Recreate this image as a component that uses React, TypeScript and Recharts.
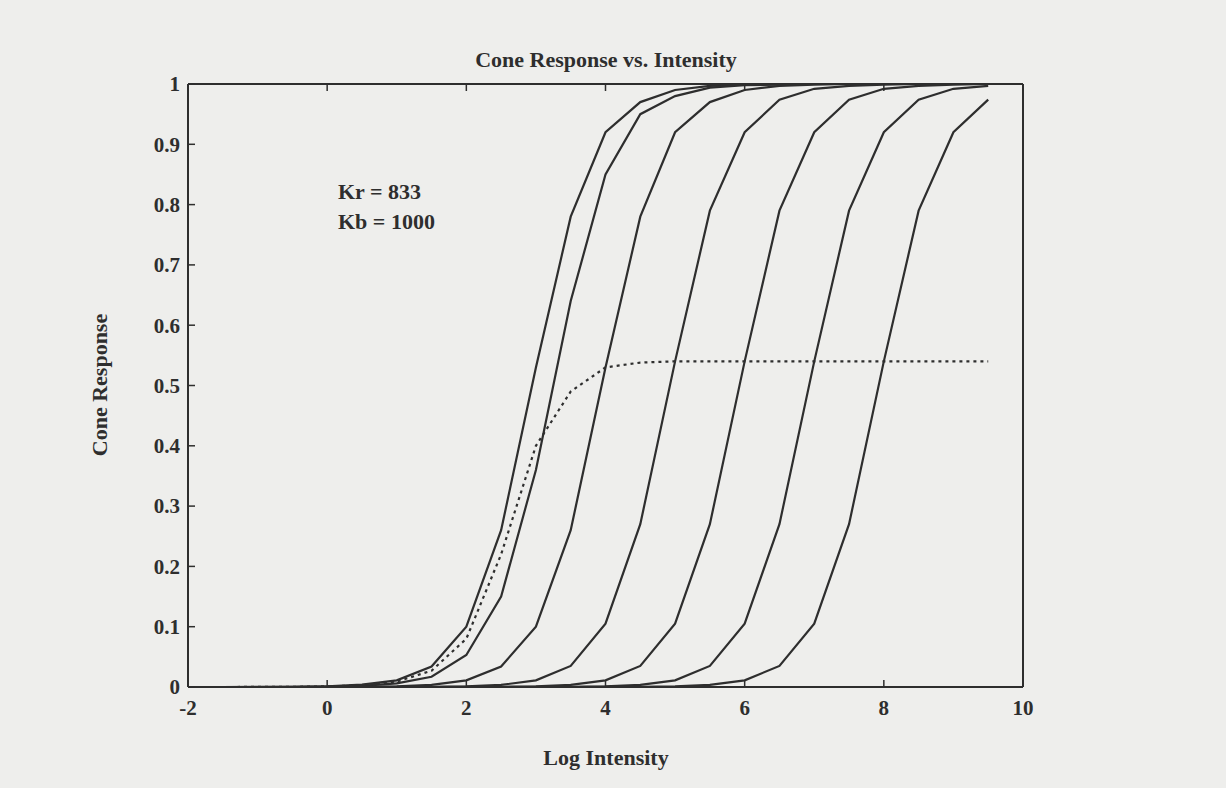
import React from "react";
import { LineChart, Line, XAxis, YAxis } from "recharts";

// log intensity sample points (0.5 steps)
const LOG_I = [
  -2, -1.5, -1, -0.5, 0, 0.5, 1, 1.5, 2, 2.5, 3, 3.5, 4, 4.5, 5, 5.5, 6, 6.5,
  7, 7.5, 8, 8.5, 9, 9.5,
];

// cone response curves
const R1 = [0, 0, 0.0001, 0.0004, 0.001, 0.004, 0.011, 0.034, 0.1, 0.26, 0.53, 0.78, 0.92, 0.97, 0.99, 0.997, 0.999, 1, 1, 1, 1, 1, 1, 1];
const R2 = [0, 0, 0, 0.0002, 0.0006, 0.0018, 0.006, 0.017, 0.053, 0.15, 0.36, 0.64, 0.85, 0.95, 0.98, 0.994, 0.998, 0.999, 1, 1, 1, 1, 1, 1];
const R3 = [0, 0, 0, 0, 0.0001, 0.0004, 0.0011, 0.0035, 0.011, 0.034, 0.1, 0.26, 0.53, 0.78, 0.92, 0.97, 0.99, 0.997, 0.999, 1, 1, 1, 1, 1];
const R4 = [0, 0, 0, 0, 0, 0, 0.0001, 0.0004, 0.0011, 0.0035, 0.011, 0.035, 0.105, 0.27, 0.54, 0.79, 0.92, 0.974, 0.992, 0.997, 0.999, 1, 1, 1];
const R5 = [0, 0, 0, 0, 0, 0, 0, 0, 0.0001, 0.0004, 0.0011, 0.0035, 0.011, 0.035, 0.105, 0.27, 0.54, 0.79, 0.92, 0.974, 0.992, 0.997, 0.999, 1];
const R6 = [0, 0, 0, 0, 0, 0, 0, 0, 0, 0, 0.0001, 0.0004, 0.0011, 0.0035, 0.011, 0.035, 0.105, 0.27, 0.54, 0.79, 0.92, 0.974, 0.992, 0.997];
const R7 = [0, 0, 0, 0, 0, 0, 0, 0, 0, 0, 0, 0, 0.0001, 0.0004, 0.0011, 0.0035, 0.011, 0.035, 0.105, 0.27, 0.54, 0.79, 0.92, 0.974];
// dotted curve
const DOTTED = [0, 0, 0.0001, 0.0003, 0.001, 0.003, 0.009, 0.027, 0.08, 0.22, 0.4, 0.49, 0.53, 0.538, 0.54, 0.54, 0.54, 0.54, 0.54, 0.54, 0.54, 0.54, 0.54, 0.54];

const X_TICKS = [-2, 0, 2, 4, 6, 8, 10];
const Y_TICKS = [0, 0.1, 0.2, 0.3, 0.4, 0.5, 0.6, 0.7, 0.8, 0.9, 1];

const SERIES = [R1, R2, R3, R4, R5, R6, R7];

const data = LOG_I.map((x, i) => {
  const row: Record<string, number> = { x, dotted: DOTTED[i] };
  SERIES.forEach((s, k) => {
    row[`r${k + 1}`] = s[i];
  });
  return row;
});

const INK = "#2e2e2e";
const FONT = "'Liberation Serif', 'Times New Roman', serif";
const TICK_LEN = 7;

const fmtY = (v: number) => (v === 0 || v === 1 ? String(v) : v.toFixed(1));

const LeftTick = (props: any) => {
  const { x, y, payload } = props;
  return (
    <g>
      <line x1={x + 8} x2={x + 8 + TICK_LEN} y1={y} y2={y} stroke={INK} strokeWidth={1.5} />
      <text x={x} y={y} dy="0.35em" textAnchor="end" fontFamily={FONT} fontSize={21} fontWeight="bold" fill={INK}>
        {fmtY(payload.value)}
      </text>
    </g>
  );
};

const BottomTick = (props: any) => {
  const { x, y, payload } = props;
  return (
    <g>
      <line x1={x} x2={x} y1={y - 13} y2={y - 13 - TICK_LEN} stroke={INK} strokeWidth={1.5} />
      <text x={x} y={y} dy="0.71em" textAnchor="middle" fontFamily={FONT} fontSize={21} fontWeight="bold" fill={INK}>
        {payload.value}
      </text>
    </g>
  );
};

const TopTick = (props: any) => {
  const { x, y } = props;
  return <line x1={x} x2={x} y1={y} y2={y + TICK_LEN} stroke={INK} strokeWidth={1.5} />;
};

const RightTick = (props: any) => {
  const { x, y } = props;
  return <line x1={x} x2={x - TICK_LEN} y1={y} y2={y} stroke={INK} strokeWidth={1.5} />;
};

const textStyle: React.CSSProperties = {
  position: "absolute",
  fontFamily: FONT,
  fontSize: 22,
  fontWeight: "bold",
  color: INK,
  whiteSpace: "nowrap",
  lineHeight: "24px",
};

const App = () => {
  return (
    <div
      style={{
        position: "absolute",
        left: 0,
        top: 0,
        width: 1226,
        height: 788,
        background: "#eeeeec",
      }}
    >
      <LineChart
        width={1226}
        height={788}
        data={data}
        margin={{ top: 83, right: 202, bottom: 61, left: 128 }}
      >
        <XAxis
          dataKey="x"
          type="number"
          domain={[-2, 10]}
          ticks={X_TICKS}
          interval={0}
          height={40}
          tickSize={0}
          tickMargin={13}
          tickLine={false}
          axisLine={{ stroke: INK, strokeWidth: 2 }}
          tick={(p: any) => <BottomTick {...p} />}
        />
        <XAxis
          xAxisId="top"
          orientation="top"
          dataKey="x"
          type="number"
          domain={[-2, 10]}
          ticks={X_TICKS}
          interval={0}
          height={1}
          tickSize={0}
          tickMargin={0}
          tickLine={false}
          axisLine={{ stroke: INK, strokeWidth: 2 }}
          tick={(p: any) => <TopTick {...p} />}
        />
        <YAxis
          type="number"
          domain={[0, 1]}
          ticks={Y_TICKS}
          interval={0}
          width={60}
          tickSize={0}
          tickMargin={8}
          tickLine={false}
          axisLine={{ stroke: INK, strokeWidth: 2 }}
          tick={(p: any) => <LeftTick {...p} />}
        />
        <YAxis
          yAxisId="right"
          orientation="right"
          type="number"
          domain={[0, 1]}
          ticks={Y_TICKS}
          interval={0}
          width={1}
          tickSize={0}
          tickMargin={0}
          tickLine={false}
          axisLine={{ stroke: INK, strokeWidth: 2 }}
          tick={(p: any) => <RightTick {...p} />}
        />
        {SERIES.map((_, k) => (
          <Line
            key={k}
            type="linear"
            dataKey={`r${k + 1}`}
            stroke={INK}
            strokeWidth={2.2}
            dot={false}
            isAnimationActive={false}
          />
        ))}
        <Line
          type="linear"
          dataKey="dotted"
          stroke={INK}
          strokeWidth={2.2}
          strokeDasharray="3 4"
          dot={false}
          isAnimationActive={false}
        />
      </LineChart>

      <div style={{ ...textStyle, left: 306, width: 600, top: 48, textAlign: "center" }}>
        Cone Response vs. Intensity
      </div>
      <div style={{ ...textStyle, left: 306, width: 600, top: 746, textAlign: "center" }}>
        Log Intensity
      </div>
      <div
        style={{
          ...textStyle,
          left: 100,
          top: 385,
          transform: "translate(-50%, -50%) rotate(-90deg)",
        }}
      >
        Cone Response
      </div>
      <div style={{ ...textStyle, left: 338, top: 180 }}>Kr = 833</div>
      <div style={{ ...textStyle, left: 338, top: 210 }}>Kb = 1000</div>
    </div>
  );
};

export default App;
